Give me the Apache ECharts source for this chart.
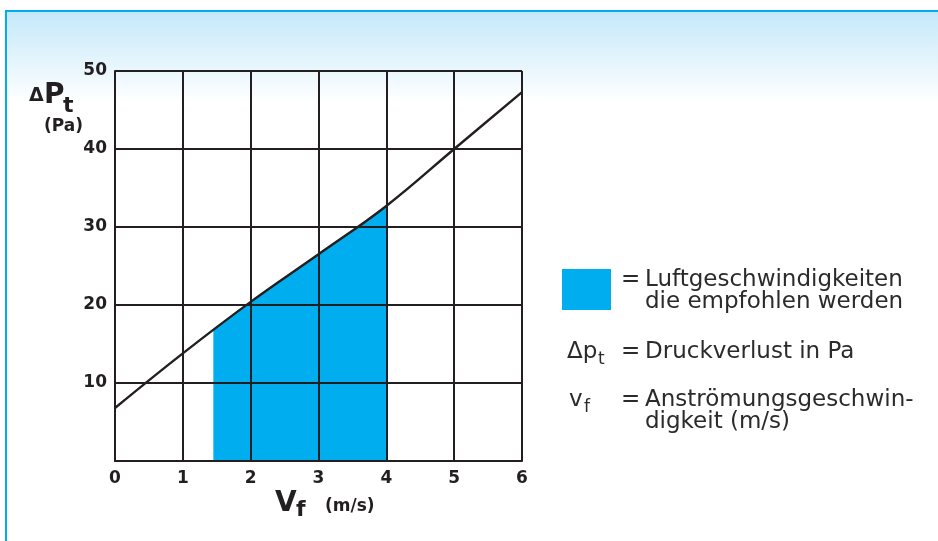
<!DOCTYPE html>
<html>
<head>
<meta charset="utf-8">
<script src="https://cdn.jsdelivr.net/npm/echarts@6/dist/echarts.min.js"></script>
<style>
html, body { margin: 0; padding: 0; background: #fff; }
#chart { width: 938px; height: 541px; }
</style>
</head>
<body>
<div id="chart"></div>
<script>
// Druckverlust-Kurve
var speedValues = [0, 1, 2, 3, 4, 5, 6];
var lossValues = [6.8, 13.8, 20.4, 26.5, 32.7, 40, 47.3];
// empfohlener Bereich (blau)
var rangeSpeed = [1.45, 2, 3, 4];
var rangeLoss = [16.8, 20.4, 26.5, 32.7];
var xTicks = [0, 1, 2, 3, 4, 5, 6];
var yTicks = [10, 20, 30, 40, 50];

var legendRange = ['Luftgeschwindigkeiten', 'die empfohlen werden'];
var legendLoss = ['Druckverlust in Pa'];
var legendSpeed = ['Anströmungsgeschwin-', 'digkeit (m/s)'];

var dark = '#231f20';
var blue = '#00aeef';

var zip = function(a, b) {
	return a.map(function(v, i) { return [v, b[i]]; });
};

var chart = echarts.init(document.getElementById('chart'));

var lt = function(x, y, text, size) {
	return {
		type: 'text', left: x, top: y,
		style: {
			text: text,
			fontFamily: 'DejaVu Sans',
			fontSize: size || 23,
			lineHeight: 22,
			fill: '#2b2b2b'
		}
	};
};

var bt = function(x, y, text, size) {
	return {
		type: 'text', left: x, top: y,
		style: {
			text: text,
			fontFamily: 'DejaVu Sans',
			fontWeight: 'bold',
			fontSize: size,
			fill: dark
		}
	};
};

var option = {
	animation: false,
	backgroundColor: '#ffffff',
	grid: {
		left: 115,
		right: 416,
		top: 71,
		bottom: 80
	},
	xAxis: {
		type: 'value',
		min: 0,
		max: 6,
		interval: 1,
		z: 5,
		axisLine: { show: true, lineStyle: { color: dark, width: 2 } },
		axisTick: { show: false },
		splitLine: { show: true, lineStyle: { color: dark, width: 2 } },
		axisLabel: {
			margin: 9,
			color: dark,
			fontFamily: 'DejaVu Sans',
			fontWeight: 'bold',
			fontSize: 17,
			formatter: function(v) { return xTicks.indexOf(v) >= 0 ? String(v) : ''; }
		}
	},
	yAxis: {
		type: 'value',
		min: 0,
		max: 50,
		interval: 10,
		z: 5,
		axisLine: { show: true, lineStyle: { color: dark, width: 2 } },
		axisTick: { show: false },
		splitLine: { show: true, lineStyle: { color: dark, width: 2 } },
		axisLabel: {
			margin: 8,
			color: dark,
			fontFamily: 'DejaVu Sans',
			fontWeight: 'bold',
			fontSize: 17,
			formatter: function(v) { return yTicks.indexOf(v) >= 0 ? String(v) : ''; }
		}
	},
	series: [{
		name: 'Bereich',
		type: 'line',
		z: 2,
		smooth: 0.4,
		symbol: 'none',
		lineStyle: { width: 0 },
		areaStyle: { color: blue, opacity: 1 },
		data: zip(rangeSpeed, rangeLoss)
	}, {
		name: 'Druckverlust',
		type: 'line',
		z: 10,
		smooth: 0.4,
		symbol: 'none',
		lineStyle: { color: dark, width: 2.4 },
		data: zip(speedValues, lossValues)
	}],
	graphic: [
		// Hintergrund mit Verlauf
		{
			type: 'rect', z: -10, silent: true,
			shape: { x: 6, y: 11, width: 932, height: 92 },
			style: {
				fill: new echarts.graphic.LinearGradient(0, 0, 0, 1, [
					{ offset: 0, color: '#c4e8fa' },
					{ offset: 1, color: '#ffffff' }
				])
			}
		},
		{ type: 'rect', z: 20, shape: { x: 5, y: 10, width: 933, height: 2 }, style: { fill: blue } },
		{ type: 'rect', z: 20, shape: { x: 5, y: 10, width: 2, height: 531 }, style: { fill: blue } },
		// Achsenbeschriftung Y
		bt(29, 87, 'Δ', 19),
		bt(44, 82, 'P', 28),
		bt(63, 95, 't', 22),
		bt(44, 118, '(Pa)', 17),
		// Achsenbeschriftung X
		bt(275, 490, 'V', 28),
		bt(296, 499, 'f', 22),
		bt(325, 498, '(m/s)', 17),
		// Legende
		{ type: 'rect', shape: { x: 562, y: 269, width: 49, height: 41 }, style: { fill: blue } },
		lt(621, 269, '='),
		lt(645, 269, legendRange.join('\n')),
		lt(567, 341, 'Δp'),
		lt(598, 349, 't', 17),
		lt(621, 341, '='),
		lt(645, 341, legendLoss[0]),
		lt(569, 389, 'v'),
		lt(584, 397, 'f', 17),
		lt(621, 389, '='),
		lt(645, 389, legendSpeed.join('\n'))
	]
};

chart.setOption(option);
</script>
</body>
</html>
